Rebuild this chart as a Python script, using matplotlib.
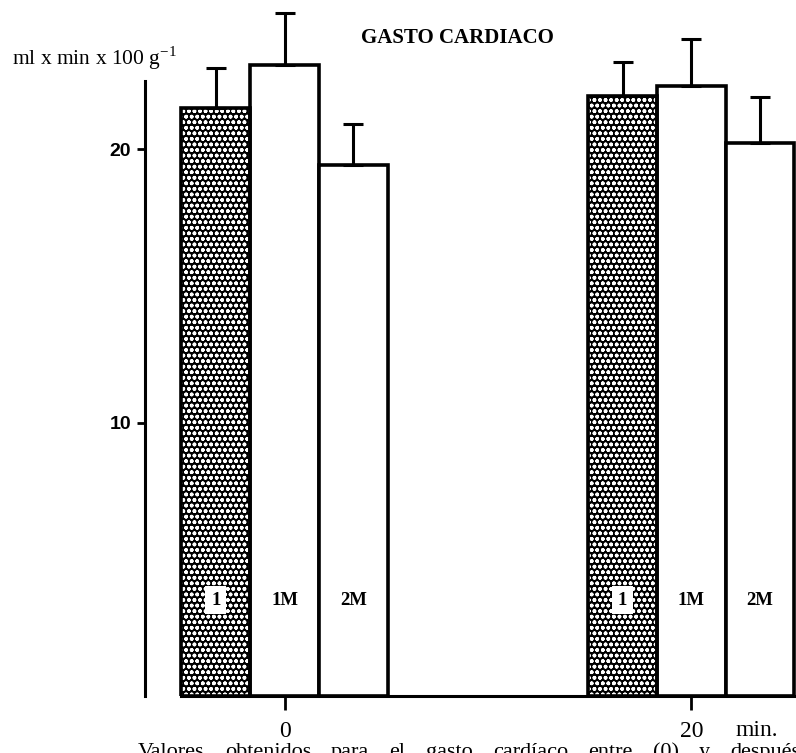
import numpy as np
import matplotlib.pyplot as plt

plt.rcParams['font.family'] = ['Liberation Serif', 'DejaVu Serif']
plt.rcParams['hatch.linewidth'] = 1.1

# tiempos de medida (min) y grupos
times = np.array([0, 20])
groups = ['1', '1M', '2M']

# gasto cardiaco medio (ml x min x 100 g-1) y error estandar por grupo
gasto_1 = [21.5, 21.94]
gasto_1M = [23.07, 22.3]
gasto_2M = [19.42, 20.21]
err_1 = [1.46, 1.24]
err_1M = [1.9, 1.73]
err_2M = [1.49, 1.68]

values = [gasto_1, gasto_1M, gasto_2M]
errors = [err_1, err_1M, err_2M]

# pie de figura
caption_words = ['Valores', 'obtenidos', 'para', 'el', 'gasto', 'cardíaco',
                 'entre', '(0)', 'y', 'después']

width = 3.38
offsets = [-width, 0, width]

fig = plt.figure(figsize=(7.96, 7.53), dpi=100)
ax = fig.add_axes([145 / 796, 57 / 753, 1 - 145 / 796, 696 / 753])

for g, off, vals, errs in zip(groups, offsets, values, errors):
    x = times + off
    if g == '1':
        # fondo negro con puntos blancos
        ax.bar(x, vals, width, facecolor='black', edgecolor='white',
               hatch='ooo', linewidth=0, zorder=2)
        ax.bar(x, vals, width, fill=False, edgecolor='black',
               linewidth=2.6, zorder=3)
    else:
        ax.bar(x, vals, width, facecolor='white', edgecolor='black',
               linewidth=2.6, zorder=2)
    ax.errorbar(x, vals, yerr=[np.zeros(len(errs)), errs], fmt='none',
                ecolor='black', elinewidth=2.2, capsize=7, capthick=2.2,
                zorder=4)
    for xi in x:
        if g == '1':
            ax.text(xi, 3.5, g, ha='center', va='center', fontsize=13.5,
                    fontweight='bold', zorder=5,
                    bbox=dict(facecolor='white', edgecolor='none', pad=4))
        else:
            ax.text(xi, 3.5, g, ha='center', va='center', fontsize=13.5,
                    fontweight='bold', zorder=5)

ax.set_xlim(-6.86, 25.15)
ax.set_ylim(0, 25.45)

for side in ['top', 'right']:
    ax.spines[side].set_visible(False)
ax.spines['left'].set_linewidth(2.2)
ax.spines['left'].set_bounds(0, 22.5)
ax.spines['bottom'].set_linewidth(2.2)
ax.spines['bottom'].set_bounds(-1.5 * width, 25.15)

ax.set_yticks([10, 20])
ax.set_yticklabels(['10', '20'], fontsize=14, fontweight='bold',
                   family='Liberation Sans')
ax.tick_params(axis='y', length=6, width=2, pad=4)
ax.set_xticks(times)
ax.set_xticklabels([str(t) for t in times], fontsize=17)
ax.tick_params(axis='x', length=10, width=2, pad=8)

fig.text(757 / 796, 1 - 730 / 753, 'min.', ha='center', va='center',
         fontsize=17)
fig.text(457 / 796, 1 - 38 / 753, 'GASTO CARDIACO', ha='center',
         va='center', fontsize=15, fontweight='bold')
fig.text(12 / 796, 1 - 58 / 753, r'ml x min x 100 g$^{\mathregular{-1}}$',
         ha='left', va='center', fontsize=15.5)

# pie justificado: se miden las palabras y se reparte el espacio sobrante
renderer = fig.canvas.get_renderer()
words = [fig.text(0, 1 - 757 / 753, w, ha='left', va='baseline', fontsize=16)
         for w in caption_words]
widths = [w.get_window_extent(renderer).width for w in words]
x0, x1 = 138, 800
gap = (x1 - x0 - sum(widths)) / (len(words) - 1)
xw = x0
for w, wd in zip(words, widths):
    w.set_x(xw / 796)
    xw += wd + gap

fig.savefig('out.png', dpi=100)
